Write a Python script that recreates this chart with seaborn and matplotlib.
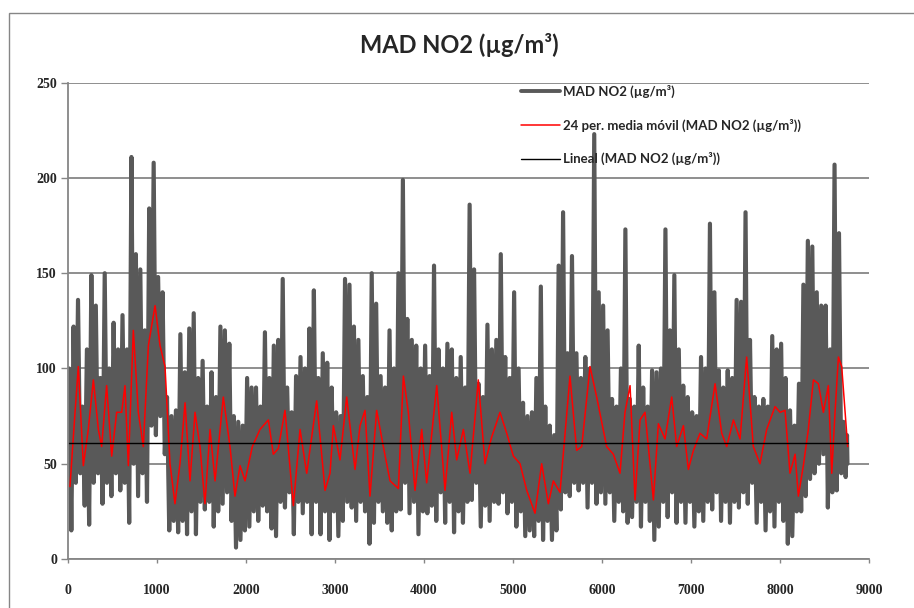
import numpy as np
import matplotlib
matplotlib.use("Agg")
import matplotlib.pyplot as plt
from matplotlib.patches import Rectangle
import seaborn as sns

# hourly NO2 series, read as high / low envelope per 50-hour block
bin_hours = 50
last_hour = 8760
no2_high = [100, 122, 136, 80, 110, 149, 133, 95, 150, 100,
            124, 110, 128, 110, 211, 160, 152, 120, 184, 208,
            148, 140, 85, 75, 78, 118, 98, 121, 129, 95,
            104, 80, 98, 85, 122, 120, 113, 75, 72, 70,
            95, 90, 90, 80, 119, 95, 112, 115, 147, 90,
            77, 96, 106, 100, 121, 141, 95, 108, 103, 90,
            77, 75, 147, 144, 122, 115, 96, 85, 150, 134,
            96, 90, 120, 100, 150, 199, 126, 115, 112, 100,
            112, 96, 154, 110, 100, 113, 110, 95, 106, 90,
            186, 152, 92, 85, 123, 110, 115, 160, 106, 95,
            140, 100, 82, 75, 77, 95, 143, 80, 70, 65,
            154, 182, 108, 159, 108, 95, 106, 100, 223, 140,
            133, 120, 84, 80, 100, 173, 84, 80, 112, 90,
            80, 99, 98, 100, 173, 120, 149, 110, 91, 85,
            77, 75, 106, 100, 176, 140, 99, 90, 99, 95,
            136, 135, 182, 115, 85, 80, 84, 80, 117, 110,
            113, 95, 78, 70, 92, 144, 167, 164, 140, 133,
            133, 110, 207, 171, 72, 65]
no2_low = [15, 40, 45, 28, 18, 40, 45, 29, 40, 33,
           45, 36, 40, 19, 50, 33, 45, 30, 70, 65,
           75, 55, 15, 20, 14, 20, 13, 25, 13, 30,
           26, 30, 17, 25, 29, 35, 20, 6, 10, 15,
           17, 25, 20, 28, 25, 16, 12, 30, 27, 35,
           13, 30, 24, 30, 13, 30, 13, 25, 10, 25,
           12, 20, 30, 27, 20, 30, 25, 8, 19, 30,
           25, 19, 15, 25, 26, 40, 24, 30, 13, 25,
           24, 28, 20, 35, 19, 30, 14, 25, 19, 30,
           31, 40, 17, 28, 20, 30, 29, 35, 24, 30,
           17, 25, 12, 15, 12, 20, 10, 20, 10, 15,
           26, 35, 33, 40, 36, 40, 27, 40, 29, 35,
           29, 35, 20, 30, 25, 19, 22, 30, 17, 30,
           20, 10, 17, 30, 22, 35, 19, 30, 19, 30,
           17, 25, 20, 30, 26, 35, 20, 30, 19, 30,
           27, 35, 29, 40, 19, 30, 15, 25, 17, 30,
           20, 8, 12, 25, 25, 33, 42, 45, 50, 55,
           27, 35, 36, 45, 43, 50]

# 24 h moving average
ma_hours = [22, 79, 116, 172, 228, 285, 341, 378, 434, 491, 547, 603, 640, 678,
            734, 790, 846, 903, 978, 1034, 1090, 1146, 1202, 1258, 1315, 1371,
            1427, 1483, 1539, 1596, 1652, 1745, 1820, 1876, 1933, 1989,
            2071, 2157, 2251, 2307, 2363, 2438, 2532, 2607, 2682, 2794, 2888,
            2944, 2981, 3056, 3131, 3225, 3281, 3337, 3393, 3468, 3543, 3618,
            3712, 3768, 3824, 3899, 3974,
            4030, 4143, 4236, 4311, 4367, 4442, 4517, 4610, 4685, 4760, 4854,
            4929, 5004, 5079, 5154, 5247, 5322, 5397, 5453, 5528, 5640, 5715,
            5772, 5865, 5940,
            6052, 6127, 6202, 6258, 6315, 6371, 6427, 6483, 6539, 6577, 6633,
            6708, 6783, 6839, 6914, 6970, 7027, 7101, 7176, 7270, 7345, 7401,
            7476, 7551, 7625, 7700, 7775,
            7850, 7944, 8000, 8056, 8112, 8169, 8206, 8262, 8318, 8375, 8431,
            8487, 8543, 8581, 8618, 8656, 8693, 8731, 8760]
ma_values = [38, 77, 101, 49, 68, 94, 68, 59, 91, 54, 77, 77, 91, 49,
             120, 77, 59, 112, 133, 112, 101, 50, 29, 50, 82, 41,
             77, 59, 29, 68, 41, 85, 59, 33, 49, 41,
             59, 68, 73, 55, 58, 78, 28, 68, 45, 83, 36,
             45, 70, 52, 85, 47, 70, 78, 33, 78, 59, 41,
             37, 96, 77, 36, 68,
             40, 91, 36, 77, 52, 68, 45, 94, 50, 64, 77,
             66, 54, 50, 36, 24, 50, 29, 41, 35, 96, 57,
             59, 101, 85,
             59, 55, 45, 77, 91, 31, 73, 77, 50, 31, 71,
             63, 85, 59, 70, 47, 57, 66, 63, 92, 66, 59,
             73, 63, 106, 59, 50,
             68, 80, 77, 78, 45, 55, 33, 49, 68, 94, 92,
             77, 91, 45, 77, 106, 101, 77, 59]

# linear trend (start, end)
trend_hours = [0, 8760]
trend_values = [60.8, 60.8]

title = "MAD NO2 (µg/m³)"
labels = ["MAD NO2 (µg/m³)",
          "24 per. media móvil (MAD NO2 (µg/m³))",
          "Lineal (MAD NO2 (µg/m³))"]

# zigzag between high and low inside each block
gray_x, gray_y = [], []
for k, (hi, lo) in enumerate(zip(no2_high, no2_low)):
    start = k * bin_hours
    end = min(start + bin_hours, last_hour)
    gray_x += [start + 0.25 * (end - start), start + 0.75 * (end - start)]
    gray_y += [hi, lo]

sns.set_theme(style="white")
plt.rcParams['font.family'] = ['Lato', 'DejaVu Sans']

fig = plt.figure(figsize=(9.14, 6.08), dpi=100)
ax = fig.add_axes([0.0744, 0.0806, 0.8764, 0.7834])

grid_c = "#868686"
sns.lineplot(x=gray_x, y=gray_y, ax=ax, color="#595959", linewidth=3.0,
             errorbar=None, label=labels[0])
sns.lineplot(x=ma_hours, y=ma_values, ax=ax, color="#ff0000", linewidth=1.1,
             errorbar=None, label=labels[1])
sns.lineplot(x=trend_hours, y=trend_values, ax=ax, color="black", linewidth=1.0,
             errorbar=None, label=labels[2])

ax.set_xlim(0, 9000)
ax.set_ylim(0, 250)
ax.set_xticks(np.arange(0, 9001, 1000))
ax.set_yticks(np.arange(0, 251, 50))
ax.set_xlabel("")
ax.set_ylabel("")

ax.yaxis.grid(True, color=grid_c, linewidth=1.3)
ax.xaxis.grid(False)
ax.set_axisbelow(True)
for side in ["top", "right"]:
    ax.spines[side].set_visible(False)
for side in ["left", "bottom"]:
    ax.spines[side].set_color(grid_c)
    ax.spines[side].set_linewidth(1.3)

ax.tick_params(axis="y", left=True, length=5, width=1, color=grid_c, pad=3)
ax.tick_params(axis="x", bottom=True, length=3, width=1, color=grid_c, pad=15)
for lab in ax.get_xticklabels() + ax.get_yticklabels():
    lab.set_family("Liberation Serif")
    lab.set_fontweight("bold")
    lab.set_fontsize(10)

leg = ax.legend(loc="upper left", bbox_to_anchor=(0.565, 0.995), frameon=False,
                borderpad=0, borderaxespad=0, handlelength=3.0, handletextpad=0.2,
                labelspacing=1.55, prop={"family": ["Lato", "DejaVu Sans"],
                                         "size": 9.5, "weight": "bold"})
leg.get_lines()[0].set_linewidth(2.8)

fig.text(0.503, 1 - 45 / 608, title, ha="center", va="center",
         fontsize=17, fontweight="bold")

# chart area border
fig.patches.append(Rectangle((9 / 914, -0.01), 1.0, 1 - 13 / 608 + 0.01,
                             transform=fig.transFigure, fill=False,
                             edgecolor=grid_c, linewidth=1))

fig.savefig("out.png", dpi=100)
